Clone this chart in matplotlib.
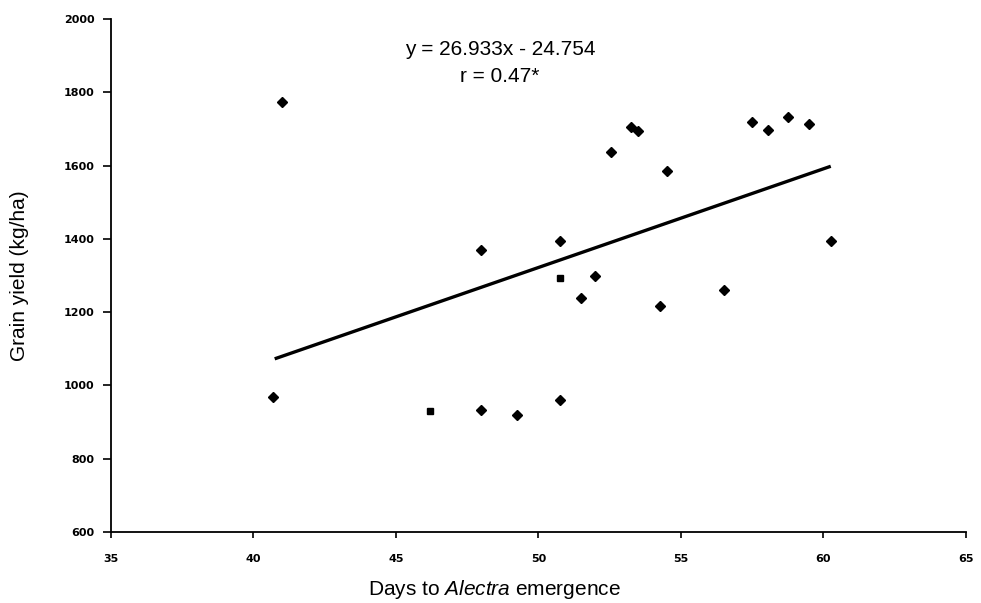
import matplotlib.pyplot as plt

plt.rcParams['font.family'] = ['Liberation Sans', 'DejaVu Sans']
plt.rcParams['mathtext.fontset'] = 'custom'
plt.rcParams['mathtext.rm'] = 'Liberation Sans'
plt.rcParams['mathtext.it'] = 'Liberation Sans:italic'

# days to Alectra emergence vs grain yield
days = [41.0, 40.7, 46.2, 48.0, 49.25, 48.0, 50.75, 50.75, 50.75, 51.5, 52.0,
        52.55, 53.25, 53.5, 54.5, 54.25, 56.5, 57.5, 58.05, 58.75, 59.5, 60.25]
grain_yield = [1773, 968, 930, 934, 919, 1370, 1394, 1293, 960, 1239, 1299,
               1638, 1705, 1694, 1585, 1217, 1260, 1719, 1697, 1733, 1713, 1394]
markers = ['D', 'D', 's', 'D', 'D', 'D', 'D', 's', 'D', 'D', 'D',
           'D', 'D', 'D', 'D', 'D', 'D', 'D', 'D', 'D', 'D', 'D']

slope = 26.933
intercept = -24.754
fit_x = [40.8, 60.2]

xticks = [35, 40, 45, 50, 55, 60, 65]
yticks = [600, 800, 1000, 1200, 1400, 1600, 1800, 2000]

fig = plt.figure(figsize=(9.81, 6.03), dpi=100)
ax = fig.add_axes([0.1131, 0.1177, 0.8716, 0.8508])

for x, y, m in zip(days, grain_yield, markers):
    ax.plot(x, y, marker=m, color='black', markersize=5 if m == 'D' else 4.5,
            linestyle='none')

fit_y = [slope * v + intercept for v in fit_x]
ax.plot(fit_x, fit_y, color='black', linewidth=2.4)

ax.set_xlim(35, 65)
ax.set_ylim(600, 2000)
ax.set_xticks(xticks)
ax.set_yticks(yticks)
ax.set_xticklabels([str(t) for t in xticks], fontfamily='DejaVu Sans',
                   fontweight='bold', fontsize=8)
ax.set_yticklabels([str(t) for t in yticks], fontfamily='DejaVu Sans',
                   fontweight='bold', fontsize=8)
ax.tick_params(axis='x', direction='out', length=4, width=1.2, pad=12)
ax.tick_params(axis='y', direction='out', length=6, width=1.2, pad=6)

for s in ['top', 'right']:
    ax.spines[s].set_visible(False)
for s in ['left', 'bottom']:
    ax.spines[s].set_linewidth(1.3)

ax.set_ylabel('Grain yield (kg/ha)', fontsize=15)
ax.yaxis.label.set_va('center')
ax.yaxis.set_label_coords(-0.1064, 0.5)
ax.set_xlabel(r'Days to $\mathit{Alectra}$ emergence', fontsize=15)
ax.xaxis.label.set_va('center')
ax.xaxis.set_label_coords(0.449, -0.113)

ax.text(0.455, 0.9415, 'y = 26.933x - 24.754', transform=ax.transAxes,
        ha='center', va='center', fontsize=15)
ax.text(0.455, 0.887, 'r = 0.47*', transform=ax.transAxes,
        ha='center', va='center', fontsize=15)

fig.savefig('out.png', dpi=100)
